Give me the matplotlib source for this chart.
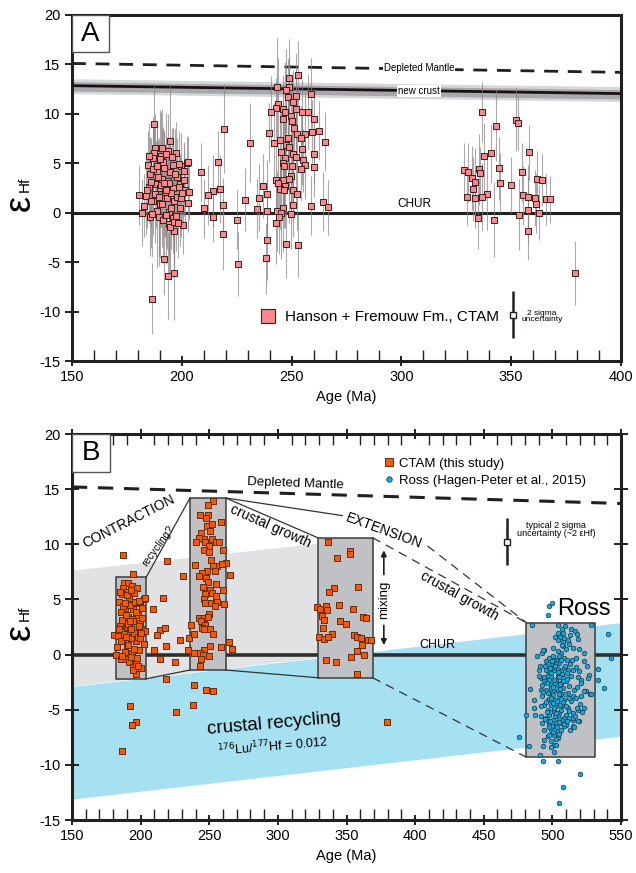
import matplotlib.pyplot as plt
from matplotlib.patches import Rectangle, Polygon
from matplotlib.lines import Line2D
import numpy as np

plt.rcParams['font.family'] = ['Liberation Sans', 'DejaVu Sans']
plt.rcParams['axes.unicode_minus'] = False

# CTAM zircon data: (age Ma, eHf, 2 sigma)
ctam_jur = [
    (188.0, 6.5, 3.5), (191.1, 6.5, 4.0), (187.5, 6.0, 3.0), (193.8, 6.2, 3.8), (197.4, 6.0, 3.2),
    (190.4, 5.7, 4.5), (195.5, 5.6, 3.0), (186.7, 5.5, 4.2), (191.6, 5.1, 3.6), (199.6, 4.7, 3.4),
    (202.3, 5.0, 2.8), (188.7, 4.2, 4.8), (194.7, 4.1, 3.2), (185.5, 3.9, 3.8), (198.0, 3.6, 4.0),
    (191.1, 3.4, 5.0), (193.6, 3.2, 3.3), (188.2, 2.9, 4.4), (199.4, 2.9, 3.0), (185.0, 2.6, 3.6),
    (189.9, 2.5, 4.0), (196.0, 2.5, 5.2), (201.3, 2.3, 3.2), (192.3, 2.1, 4.6), (180.7, 1.8, 3.0),
    (183.8, 1.7, 4.0), (187.0, 1.2, 3.5), (196.5, 1.2, 4.2), (189.9, 0.9, 5.5), (182.6, 0.7, 3.2),
    (199.1, 0.45, 3.8), (194.0, 0.1, 4.5), (182.1, 0.0, 3.4), (185.5, -0.4, 4.0), (189.4, -0.4, 5.0),
    (196.0, -0.5, 3.6), (191.4, -0.7, 4.4), (194.3, -1.1, 5.5), (200.4, -1.2, 3.0), (196.4, -1.8, 4.0),
    (187.3, 9.0, 3.8), (194.8, 7.3, 5.5), (184.5, 4.8, 3.5), (186.2, 3.1, 4.5), (187.8, 1.9, 5.0),
    (189.1, 3.6, 3.8), (190.5, 2.8, 4.2), (192.0, 4.5, 3.6), (193.1, 1.5, 5.2), (194.2, 3.0, 4.0),
    (195.3, 2.0, 3.4), (196.8, 3.9, 4.6), (197.9, 1.6, 3.8), (198.9, 2.6, 3.2), (200.8, 3.3, 3.6),
    (202.8, 1.0, 3.0), (203.5, 2.1, 2.8), (185.9, 1.2, 4.8), (188.5, 0.2, 5.8), (190.8, 0.9, 4.4),
    (192.7, -0.2, 5.0), (195.0, 0.5, 4.2), (197.3, -0.3, 3.6), (199.8, 1.5, 4.0), (184.2, 2.3, 3.8),
    (186.9, 4.4, 4.6), (190.1, 5.4, 5.0), (193.0, 5.9, 4.2), (195.9, 4.8, 3.8), (198.5, 4.9, 3.4),
    (201.0, 4.2, 3.0), (203.0, 5.1, 2.6), (189.6, 1.6, 6.0), (191.9, 3.0, 5.4), (194.6, -1.4, 4.8),
    (196.4, -0.9, 4.0), (198.2, -1.0, 3.6), (186.4, -0.1, 4.4), (192.9, 2.3, 5.6), (188.9, 4.7, 4.0),
    (185.2, 5.7, 3.4), (200.2, 2.0, 3.2),
]
ctam_tri = [
    (219.0, 8.5, 4.5), (231.0, 7.1, 4.0), (216.6, 5.1, 3.2), (208.9, 4.1, 3.0), (214.0, 2.2, 3.6),
    (217.6, 2.4, 3.4), (212.0, 1.8, 3.0), (228.6, 1.3, 3.2), (218.6, 0.75, 2.8), (209.9, 0.45, 3.0),
    (214.0, -0.4, 2.6), (225.0, -0.7, 3.0), (218.8, -2.2, 3.6), (225.7, -5.2, 3.2), (192.1, -4.7, 3.6),
    (196.6, -6.1, 4.8), (193.6, -6.4, 4.4), (186.6, -8.7, 3.6), (234.4, 0.4, 3.0), (235.0, 1.5, 3.4),
    (237.0, 2.7, 3.2), (239.8, 8.1, 3.0),
]
ctam_perm = [
    (252.9, 13.9, 3.5), (249.0, 13.6, 4.0), (243.4, 12.7, 5.0), (249.0, 12.7, 3.0), (247.3, 12.4, 4.2),
    (258.8, 12.0, 3.6), (248.3, 11.7, 3.8), (251.9, 11.8, 4.4), (250.7, 11.2, 3.2), (244.0, 11.0, 4.6),
    (245.9, 10.5, 3.4), (252.0, 10.5, 4.0), (242.7, 10.6, 3.0), (240.5, 10.2, 3.6), (247.0, 10.2, 5.0),
    (254.9, 10.2, 3.2), (257.3, 10.2, 3.8), (249.5, 9.8, 4.2), (245.9, 9.5, 3.6), (260.2, 9.5, 3.0),
    (250.0, 9.3, 4.6), (251.2, 8.6, 3.4), (262.4, 8.3, 3.0), (256.0, 8.0, 4.0), (259.3, 8.2, 3.2),
    (252.4, 8.0, 3.6), (248.3, 7.6, 4.4), (254.4, 7.6, 3.2), (244.9, 7.4, 3.8), (265.3, 7.2, 3.0),
    (242.2, 7.1, 4.0), (247.5, 6.9, 3.4), (248.8, 6.6, 4.8), (254.9, 6.4, 3.6), (245.3, 6.1, 4.0),
    (250.7, 5.9, 3.2), (260.0, 5.9, 3.0), (252.0, 5.6, 4.4), (247.0, 5.5, 3.6), (255.0, 5.3, 3.2),
    (245.9, 5.0, 4.2), (256.0, 4.8, 3.4), (250.2, 4.7, 3.8), (260.4, 4.6, 3.0), (246.6, 4.7, 4.6),
    (254.4, 4.4, 3.2), (249.5, 3.7, 3.6), (242.7, 3.3, 4.0), (245.9, 3.3, 3.4), (248.8, 3.4, 4.4),
    (243.9, 3.0, 3.6), (247.0, 2.7, 4.2), (250.7, 2.3, 3.2), (244.6, 2.4, 4.0), (246.4, 2.3, 3.8),
    (239.0, 1.9, 3.4), (252.4, 1.9, 3.6), (264.1, 1.1, 3.0), (245.9, 0.45, 4.4), (250.7, 0.75, 3.2),
    (258.8, 0.7, 3.0), (266.6, 0.55, 2.8), (243.4, 0.15, 4.0), (249.5, -0.1, 3.6), (239.0, 0.15, 3.2),
    (245.3, -0.05, 4.6), (244.2, -0.4, 3.8), (242.9, -1.0, 4.2), (238.6, -2.8, 4.0), (247.6, -3.2, 3.4),
    (252.7, -3.3, 3.2), (238.3, -4.6, 3.6),
]
ctam_carb = [
    (336.6, 10.2, 3.0), (352.2, 9.4, 3.2), (352.9, 9.1, 2.8), (343.2, 8.8, 3.6), (341.0, 6.0, 3.0),
    (337.6, 5.7, 3.4), (358.3, 6.1, 2.8), (344.4, 4.5, 3.2), (328.6, 4.3, 2.8), (330.5, 4.1, 3.0),
    (335.2, 4.4, 3.6), (335.9, 4.0, 2.6), (355.1, 4.1, 3.0), (332.3, 3.5, 3.2), (361.7, 3.4, 2.8),
    (363.9, 3.3, 2.6), (333.5, 3.1, 3.4), (344.9, 3.0, 3.0), (349.8, 2.8, 2.8), (332.7, 2.4, 3.2),
    (339.1, 1.9, 3.6), (329.8, 1.6, 2.8), (333.5, 1.45, 3.0), (336.6, 1.6, 3.4), (355.3, 1.75, 3.0),
    (357.8, 1.6, 3.2), (360.9, 1.5, 2.8), (365.8, 1.35, 2.6), (367.5, 1.35, 2.4), (361.4, 0.9, 3.0),
    (357.8, 0.3, 3.4), (362.6, 0.0, 2.8), (353.4, -0.2, 3.6), (334.7, -0.5, 3.2), (342.0, -0.7, 3.8),
    (357.8, -1.8, 3.0), (379.2, -6.1, 3.2),
]

# Ross Orogen data (Hagen-Peter et al., 2015): (age Ma, eHf)
ross = [
    (503.8, 1.97), (507.4, 1.97), (505.7, 1.61), (508.6, 1.52), (503.8, 1.30), (508.1, 1.12),
    (511.1, 1.30), (513.5, 2.33), (516.4, 2.12), (517.9, 1.82), (518.4, 1.42), (512.3, 0.97),
    (507.4, 0.76), (509.8, 0.46), (506.2, 0.15), (505.0, -0.15), (502.5, -0.45), (501.3, -0.61),
    (498.9, -0.91), (505.0, -0.76), (508.6, -0.30), (510.6, -0.51), (514.0, -0.45), (519.6, 0.52),
    (522.7, 0.15), (494.0, 0.39), (492.8, 0.15), (488.7, -0.15), (501.3, -1.36), (496.5, -1.51),
    (498.9, -1.67), (503.8, -1.30), (506.2, -1.51), (508.6, -1.21), (511.1, -1.42), (514.7, -1.36),
    (517.1, -1.12), (523.2, -0.61), (525.2, -1.0), (496.5, -1.97), (491.6, -2.12), (490.4, -1.97),
    (494.0, -2.27), (498.9, -2.03), (503.8, -1.97), (507.4, -2.12), (513.5, -1.91), (518.4, -2.03),
    (520.8, -2.27), (526.9, -1.82), (526.1, -2.12), (492.8, -2.73), (498.9, -2.73), (502.5, -2.42),
    (506.2, -2.57), (509.8, -2.42), (512.3, -2.88), (515.9, -3.18), (520.8, -2.57), (524.4, -3.33),
    (527.6, -3.54), (522.7, -3.33), (520.8, -3.73), (495.2, -3.18), (497.7, -3.48), (501.3, -3.18),
    (503.8, -3.33), (506.2, -3.54), (511.1, -3.48), (514.7, -3.79), (492.8, -3.79), (496.5, -4.09),
    (501.3, -4.09), (505.0, -3.94), (508.6, -4.09), (513.5, -4.24), (517.1, -3.94), (494.0, -4.54),
    (491.6, -4.70), (498.9, -4.54), (502.5, -4.70), (507.4, -4.54), (511.1, -4.85), (518.4, -5.0),
    (523.2, -4.85), (496.5, -5.0), (501.3, -5.15), (505.0, -5.30), (509.8, -5.45), (514.7, -5.30),
    (517.9, -4.85), (491.6, -5.6), (495.2, -5.76), (500.1, -5.91), (503.8, -5.6), (508.6, -5.76),
    (512.3, -5.76), (514.7, -5.91), (519.6, -6.06), (492.8, -6.21), (497.7, -6.36), (502.5, -6.21),
    (506.2, -6.21), (509.8, -6.36), (514.7, -6.45), (494.0, -6.82), (498.9, -6.82), (503.8, -6.97),
    (501.3, -7.27), (505.0, -7.18), (496.5, -7.42), (494.0, -7.73), (498.9, -7.88), (501.3, -8.18),
    (493.5, -8.27), (486.7, -4.09), (486.7, -4.85), (487.0, -5.45), (483.6, -3.12), (493.5, 0.39),
    (484.8, 2.70), (528.1, 2.70), (533.0, -2.33), (533.4, -1.30), (528.1, -3.54), (518.8, -6.06),
    (514.7, -5.76), (508.6, -6.51), (491.6, -3.18), (490.4, -1.36), (491.1, -1.06), (495.2, -0.61),
    (497.7, -0.30), (500.1, -0.15), (497.7, -2.27), (500.1, -3.64), (502.5, -4.39), (506.2, -5.0),
    (509.8, -4.70), (512.3, -5.15), (497.7, -5.45), (501.3, -6.51), (496.5, -6.06),
    (499.5, -1.2), (502.0, -2.6), (504.5, -3.6), (500.7, -4.4), (506.8, -1.8), (503.0, -0.9),
    (499.0, -3.0), (497.0, -0.9), (505.5, -4.6), (508.0, -3.0), (501.8, -5.6), (496.0, -2.6),
    (498.3, -5.2), (503.2, -6.6), (507.0, -5.9), (510.5, -2.2), (512.8, -0.9), (494.8, -1.0),
    (493.0, -3.4), (500.4, 0.6), (504.0, 0.3), (506.9, 0.9), (502.0, 1.6), (509.3, -1.0),
    (511.8, -3.9), (497.4, -4.0), (495.8, -5.2), (504.2, -7.6), (499.8, -6.5), (506.5, -6.8),
    (500.9, -2.3), (502.9, -3.0), (504.7, -2.0), (499.2, -3.9), (501.5, -4.8), (503.6, -4.2),
    (505.9, -3.1), (507.7, -2.4), (498.0, -1.2), (499.9, -0.6), (501.9, -1.0), (504.1, -1.6),
    (506.0, -0.5), (500.3, -2.9), (502.6, -5.3), (504.9, -5.8), (498.6, -6.0), (500.6, -7.0),
    (502.4, -7.7), (497.3, -6.6), (503.0, -8.2), (505.8, -2.7), (507.9, -4.3), (509.4, -3.6),
    (510.9, -1.7), (496.9, -3.5), (495.6, -4.3), (494.5, -5.8), (493.7, -2.0), (495.1, -1.4),
    (499.1, -8.4), (500.9, -8.8), (497.5, -7.3), (504.6, -6.1), (506.4, -4.0), (508.4, -6.3),
    (511.0, -6.0), (513.0, -6.8), (515.5, -6.6), (516.4, -5.6), (520.0, -4.5), (521.5, -5.2),
    (518.0, -2.9), (519.1, -1.5), (516.9, -0.3), (515.0, 0.6), (512.5, 1.8), (509.0, 2.6),
    (506.7, 2.3), (504.4, 2.7),
    (497.2, 4.39), (499.6, 4.70), (496.7, 3.55), (540.7, 1.91), (542.7, -0.30), (537.8, -3.03),
    (480.6, -5.51), (475.8, -7.51), (482.8, -8.33), (490.9, -9.15), (493.5, -9.67), (503.8, -9.67),
    (519.8, -10.82), (507.9, -11.97), (505.0, -13.5),
]

# reference curves
dm_age_a, dm_a = [150, 400], [15.1, 14.2]
nc_age, nc = [150, 400], [12.85, 12.05]
dm_age_b, dm_b = [150, 550], [15.2, 13.7]
grey_age, grey_top = [150, 369], [7.6, 10.6]
blue_age, blue_top, blue_bot = [150, 550], [-2.9, 2.9], [-13.1, -7.4]
box_age0 = [182, 236, 329, 481]
box_age1 = [204, 262, 369, 531]
box_lo = [-2.2, -1.4, -2.1, -9.3]
box_hi = [7.0, 14.2, 10.6, 2.9]
ext_solid = ([262, 347], [14.2, 12.6])
ext_dash = ([409, 481], [9.85, 2.9])
sigma_a = (351, -10.3, 2.35)
sigma_b = (467, 10.25, 2.1)

ctam = ctam_jur + ctam_tri + ctam_perm + ctam_carb
c_age = np.array([p[0] for p in ctam])
c_ehf = np.array([p[1] for p in ctam])
c_err = np.array([p[2] for p in ctam])
r_age = [p[0] for p in ross]
r_ehf = [p[1] for p in ross]

dark = '#231f20'
fig = plt.figure(figsize=(6.36, 8.73), dpi=100)
axA = fig.add_axes([72/636, 1-361/873, 549/636, 346/873])
axB = fig.add_axes([72/636, 1-820/873, 549/636, 386/873])

def style(ax, x0, x1, top_ticks, right_ticks):
    ax.set_xlim(x0, x1)
    ax.set_ylim(-15, 20)
    ax.set_xticks(np.arange(x0, x1 + 1, 50))
    ax.set_xticks(np.arange(x0, x1 + 1, 10), minor=True)
    ax.set_yticks(np.arange(-15, 21, 5))
    for s in ax.spines.values():
        s.set_linewidth(2.2)
        s.set_color(dark)
    ax.tick_params(axis='x', which='major', direction='inout', length=7, width=1.4,
                   labelsize=10.5, color=dark, top=top_ticks, pad=3)
    ax.tick_params(axis='x', which='minor', direction='in', length=8, width=1,
                   color=dark, top=top_ticks)
    ax.tick_params(axis='y', which='major', direction='inout', length=10, width=1.4,
                   labelsize=10.5, color=dark, right=right_ticks)
    ax.set_xlabel('Age (Ma)', fontsize=10.5, labelpad=4)

# ---------- Panel A ----------
style(axA, 150, 400, False, False)
axA.plot(dm_age_a, dm_a, ls=(0, (5, 3.5)), lw=2, color=dark, zorder=3)
axA.fill_between(nc_age, np.array(nc) - 0.8, np.array(nc) + 0.7, color='#d6d7d9', lw=0, zorder=2)
axA.fill_between(nc_age, np.array(nc) - 0.55, np.array(nc) + 0.4, color='#a8a9ac', lw=0, zorder=2)
axA.plot(nc_age, nc, lw=2, color='#1a1011', zorder=3)
axA.axhline(0, color=dark, lw=2.2, zorder=2)
axA.vlines(c_age, c_ehf - c_err, c_ehf + c_err, color='#8a8383', lw=0.8, alpha=0.7, zorder=3)
axA.scatter(c_age, c_ehf, marker='s', s=18, facecolor='#f7898b', edgecolor='#3b2020',
            linewidth=0.7, zorder=4)
axA.text(308, 14.6, 'Depleted Mantle', fontsize=7, ha='center', va='center',
         bbox=dict(fc='white', ec='none', pad=0.6), zorder=5)
axA.text(308, 12.35, 'new crust', fontsize=7, ha='center', va='center',
         bbox=dict(fc='white', ec='none', pad=0.6), zorder=5)
axA.text(306, 0.85, 'CHUR', fontsize=8.5, ha='center', va='center')
axA.vlines(sigma_a[0], sigma_a[1] - sigma_a[2], sigma_a[1] + sigma_a[2], color=dark, lw=1.8, zorder=5)
axA.plot(sigma_a[0], sigma_a[1], 's', ms=5, mfc='white', mec=dark, mew=1, zorder=6)
axA.text(364, -10.5, '2 sigma\nuncertainty', fontsize=6, ha='center', va='center', linespacing=0.9)
hA = [Line2D([], [], marker='s', ls='none', ms=10, mfc='#f7898b', mec='#3b2020', mew=0.8)]
axA.legend(hA, ['Hanson + Fremouw Fm., CTAM'], loc='center left', bbox_to_anchor=(0.343, 0.127),
           frameon=False, fontsize=11, handlelength=1.0, handletextpad=0.6, borderpad=0,
           borderaxespad=0)
axA.add_patch(Rectangle((0, 0.893), 0.067, 0.107, transform=axA.transAxes, fc='white',
                        ec='#555555', lw=1, zorder=6))
axA.text(0.034, 0.945, 'A', transform=axA.transAxes, fontsize=20, ha='center', va='center', zorder=7)

# ---------- Panel B ----------
style(axB, 150, 550, True, True)
gx = np.array(grey_age)
axB.add_patch(Polygon(list(zip(gx, grey_top)) + list(zip(gx[::-1], np.interp(gx[::-1], blue_age, blue_top))),
                      closed=True, fc='#e1e2e4', ec='none', zorder=1))
axB.fill_between(blue_age, blue_bot, blue_top, color='#a6e1f2', lw=0, zorder=1)
axB.axhline(0, color='#2e2e2e', lw=2.6, zorder=2)
for a0, a1, lo, hi in zip(box_age0, box_age1, box_lo, box_hi):
    axB.add_patch(Rectangle((a0, lo), a1 - a0, hi - lo, fc='#c0c1c4', ec='#3c3c3c', lw=1.1, zorder=3))
for i in range(3):
    ls = '-' if i < 2 else (0, (7, 5))
    axB.plot([box_age1[i], box_age0[i + 1]], [box_hi[i], box_hi[i + 1]], ls=ls, color='#333333', lw=0.9, zorder=3)
    axB.plot([box_age1[i], box_age0[i + 1]], [box_lo[i], box_lo[i + 1]], ls=ls, color='#333333', lw=0.9, zorder=3)
axB.plot(*ext_solid, color='#333333', lw=0.9, zorder=3)
axB.plot(*ext_dash, ls=(0, (7, 5)), color='#333333', lw=0.9, zorder=3)
axB.plot(dm_age_b, dm_b, ls=(0, (5, 3.5)), lw=2.2, color=dark, zorder=3)

axB.scatter(c_age, c_ehf, marker='s', s=22, facecolor='#f05a0a', edgecolor='#6b2a08',
            linewidth=0.7, zorder=5)
axB.scatter(r_age, r_ehf, marker='o', s=11, facecolor='#1aa7d8', edgecolor='#0b3a55',
            linewidth=0.5, zorder=5)

axB.text(313, 15.5, 'Depleted Mantle', fontsize=9.5, ha='center', va='center', rotation=-2)
axB.text(191, 12.1, 'CONTRACTION', fontsize=10, ha='center', va='center', rotation=27)
axB.text(213, 9.85, 'recycling?', fontsize=7.5, ha='center', va='center', rotation=54)
axB.text(295, 11.6, 'crustal growth', fontsize=10, ha='center', va='center', rotation=-24)
axB.text(377.5, 11.2, 'EXTENSION', fontsize=10, ha='center', va='center', rotation=-20)
axB.text(432, 5.3, 'crustal growth', fontsize=10, ha='center', va='center', rotation=-29)
axB.text(377.2, 5.0, 'mixing', fontsize=9.5, ha='center', va='center', rotation=90)
axB.annotate('', xy=(377.2, 9.7), xytext=(377.2, 7.0),
             arrowprops=dict(arrowstyle='-|>', color=dark, lw=1.2, mutation_scale=8))
axB.annotate('', xy=(377.2, 0.6), xytext=(377.2, 2.9),
             arrowprops=dict(arrowstyle='-|>', color=dark, lw=1.2, mutation_scale=8))
axB.text(416, 0.9, 'CHUR', fontsize=9, ha='center', va='center')
axB.text(523, 4.1, 'Ross', fontsize=17, ha='center', va='center')
axB.text(297, -6.3, 'crustal recycling', fontsize=13.5, ha='center', va='center', rotation=5)
axB.text(296, -8.3, r'$^{176}$Lu/$^{177}$Hf = 0.012', fontsize=9, ha='center', va='center', rotation=5)

axB.vlines(sigma_b[0], sigma_b[1] - sigma_b[2], sigma_b[1] + sigma_b[2], color=dark, lw=1.8, zorder=5)
axB.plot(sigma_b[0], sigma_b[1], 's', ms=5, mfc='white', mec=dark, mew=1, zorder=6)
axB.text(502.5, 11.35, 'typical 2 sigma\nuncertainty (~2 εHf)', fontsize=6.5, ha='center',
         va='center', linespacing=0.9)

hB = [Line2D([], [], marker='s', ls='none', ms=6, mfc='#f05a0a', mec='#6b2a08', mew=0.7),
      Line2D([], [], marker='o', ls='none', ms=4, mfc='#1aa7d8', mec='#0b3a55', mew=0.5)]
axB.legend(hB, ['CTAM (this study)', 'Ross (Hagen-Peter et al., 2015)'], loc='center left',
           bbox_to_anchor=(0.568, 0.9005), frameon=False, fontsize=9.5, handlelength=0.8,
           handletextpad=0.35, labelspacing=0.35, borderpad=0, borderaxespad=0)
axB.add_patch(Rectangle((0, 0.902), 0.069, 0.098, transform=axB.transAxes, fc='white',
                        ec='#555555', lw=1, zorder=6))
axB.text(0.035, 0.95, 'B', transform=axB.transAxes, fontsize=20, ha='center', va='center', zorder=7)

# y labels (epsilon Hf)
for yc, yh in [(203, 184), (632, 613)]:
    fig.text(20/636, 1 - yc/873, 'ε', fontsize=26, rotation=90, ha='center', va='center')
    fig.text(25/636, 1 - yh/873, 'Hf', fontsize=11, rotation=90, ha='center', va='center')

fig.savefig('out.png', dpi=100)
